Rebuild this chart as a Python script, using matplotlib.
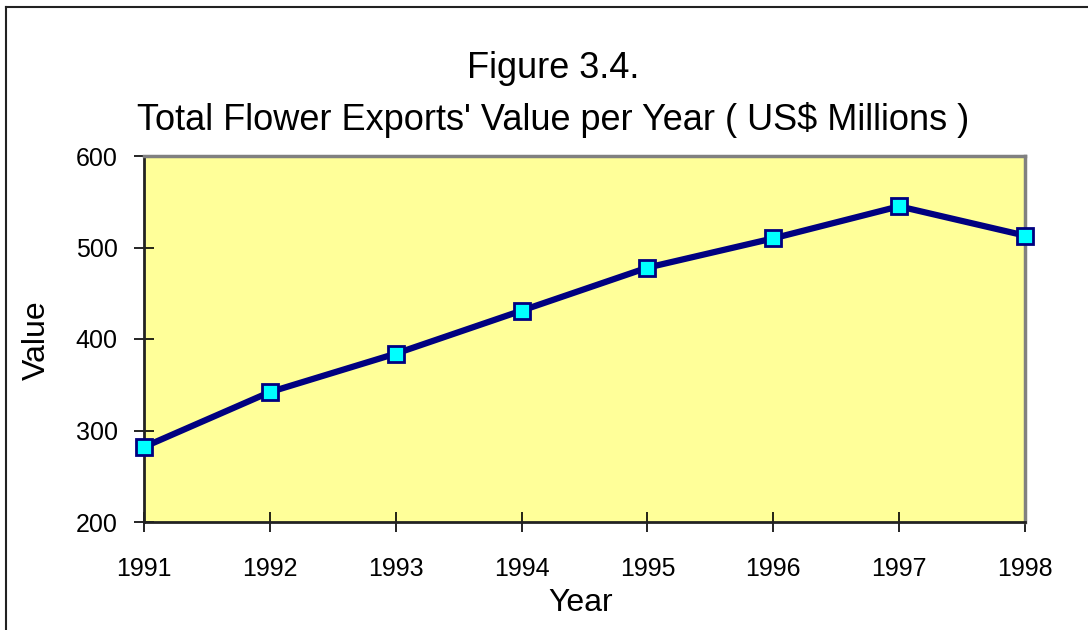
import matplotlib
matplotlib.use('Agg')
from matplotlib import pyplot as plt
from matplotlib.lines import Line2D

plt.rcParams['font.family'] = ['Liberation Sans', 'DejaVu Sans']

years = [1991, 1992, 1993, 1994, 1995, 1996, 1997, 1998]
values = [282, 342, 384, 431, 478, 510, 545, 513]
yticks = [200, 300, 400, 500, 600]

fig = plt.figure(figsize=(10.88, 6.3), dpi=100)
W, H = 1088.0, 630.0

ax = fig.add_axes([144 / W, 1 - 522 / H, (1025 - 144) / W, (522 - 156) / H])
ax.set_facecolor('#ffff99')
ax.plot(years, values, color='#000080', lw=4.5, marker='s', ms=11,
        mfc='#00ffff', mec='#000080', mew=2, clip_on=False, zorder=5)

ax.set_xlim(1991, 1998)
ax.set_ylim(200, 600)
ax.set_xticks(years)
ax.set_yticks(yticks)
ax.tick_params(axis='both', direction='inout', length=14, width=1.2,
               labelsize=18, color='black')
ax.tick_params(axis='x', pad=18)
ax.tick_params(axis='y', pad=12)

for s in ['left', 'bottom']:
    ax.spines[s].set_color('#222222')
    ax.spines[s].set_linewidth(2)
for s in ['top', 'right']:
    ax.spines[s].set_color('#808080')
    ax.spines[s].set_linewidth(2.5)

fig.text(553 / W, 1 - 68 / H, 'Figure 3.4.', ha='center', va='center', fontsize=26)
fig.text(553 / W, 1 - 120 / H,
         "Total Flower Exports' Value per Year ( US$ Millions )",
         ha='center', va='center', fontsize=26)
fig.text(37 / W, 1 - 340 / H, 'Value', rotation=90, ha='center', va='center', fontsize=23)
fig.text(581 / W, 1 - 603 / H, 'Year', ha='center', va='center', fontsize=23)

# outer chart border (only left and top visible)
fig.add_artist(Line2D([6 / W, 6 / W], [0, 1 - 7 / H], transform=fig.transFigure,
                      color='#222222', lw=1.5))
fig.add_artist(Line2D([6 / W, 1], [1 - 7 / H, 1 - 7 / H], transform=fig.transFigure,
                      color='#222222', lw=1.5))

plt.savefig('out.png', dpi=100)
plt.close()
